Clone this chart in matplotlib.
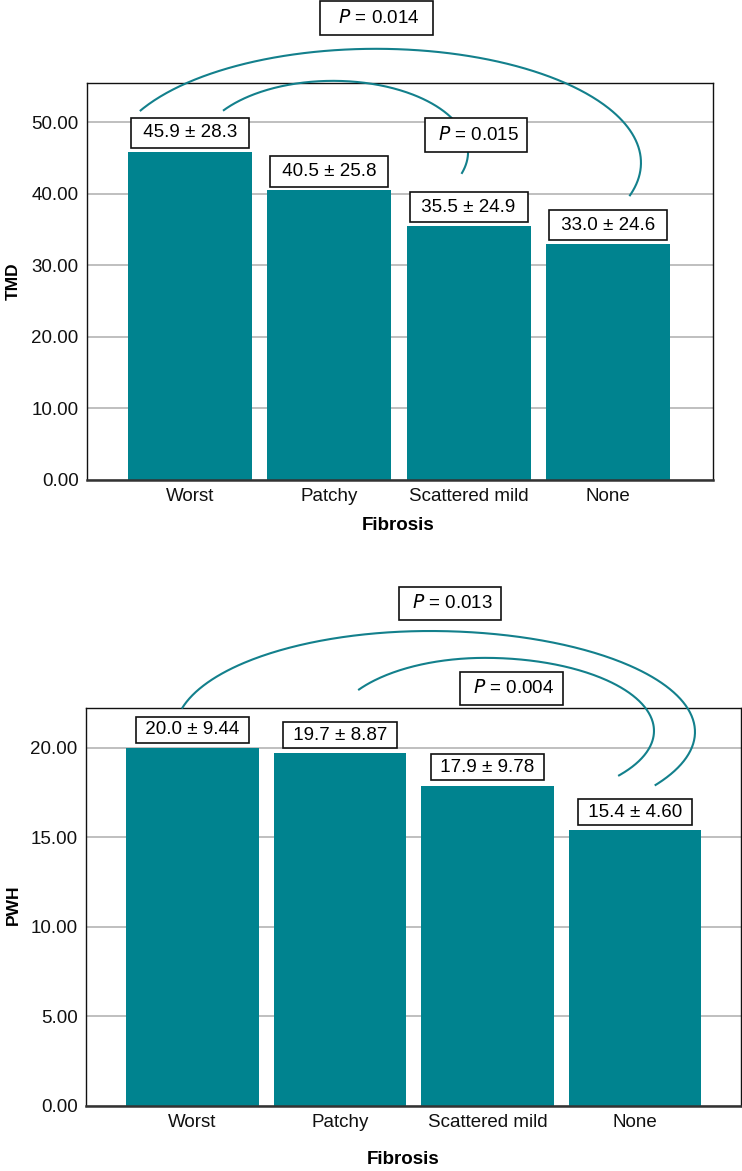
import numpy as np
import matplotlib
matplotlib.use("Agg")
import matplotlib.pyplot as plt
from matplotlib import font_manager

plt.rcParams['font.family'] = ['Liberation Sans', 'DejaVu Sans']

# ---------------- data ----------------
categories = ["Worst", "Patchy", "Scattered mild", "None"]
tmd_mean = [45.9, 40.5, 35.5, 33.0]
tmd_sd = [28.3, 25.8, 24.9, 24.6]
pwh_mean = [20.0, 19.7, 17.9, 15.4]
pwh_sd = ["9.44", "8.87", "9.78", "4.60"]
tmd_ticks = [0, 10, 20, 30, 40, 50]
pwh_ticks = [0, 5, 10, 15, 20]
tmd_p = ["0.014", "0.015"]
pwh_p = ["0.013", "0.004"]

BAR = "#00838f"
ARC = "#13808c"
W, H = 742, 1171

names = {f.name for f in font_manager.fontManager.ttflist}
narrow = [n for n in ['Liberation Sans Narrow', 'DejaVu Sans Condensed'] if n in names]

fig = plt.figure(figsize=(W / 100, H / 100), dpi=100)


def px_axes(l, r, t, b):
    return fig.add_axes([l / W, 1 - b / H, (r - l) / W, (b - t) / H])


def style(ax, ticks, ylim, xlim):
    x = np.arange(len(categories))
    ax.set_xlim(*xlim)
    ax.set_ylim(*ylim)
    ax.set_yticks(ticks)
    ax.set_yticklabels([f"{t:.2f}" for t in ticks])
    ax.set_xticks(x)
    ax.set_xticklabels(categories)
    ax.tick_params(axis='both', length=0, labelsize=13.5, colors='#111111')
    ax.tick_params(axis='y', pad=6)
    ax.tick_params(axis='x', pad=6)
    ax.yaxis.grid(True, color='#b4b4b4', lw=1.2)
    ax.set_axisbelow(True)
    for s in ['top', 'left', 'right']:
        ax.spines[s].set_linewidth(1.0)
        ax.spines[s].set_color('#111111')
    ax.spines['bottom'].set_linewidth(1.8)
    ax.spines['bottom'].set_color('#333333')


def arc(ax, cx, cy, aL, aR, b, t0, t1):
    t = np.radians(np.linspace(t0, t1, 300))
    a = np.where(np.cos(t) < 0, aL, aR)
    ax.plot(cx + a * np.cos(t), cy + b * np.sin(t), color=ARC, lw=1.5,
            clip_on=False, zorder=4, solid_capstyle='butt')


def pbox(ax, x, y, txt, spaces):
    sp = " " * spaces
    ax.text(x, y, sp + r"$\it{P}$" + " = " + txt + sp, ha='center', va='center',
            fontsize=13.5, zorder=6, clip_on=False,
            bbox=dict(boxstyle='square,pad=0.42', fc='white', ec='#111111', lw=1.2))


# ---------------- top chart: TMD ----------------
ax1 = px_axes(87, 713, 83, 480)
x = np.arange(len(categories))
ax1.bar(x, tmd_mean, width=0.89, color=BAR, zorder=2)
style(ax1, tmd_ticks, (0, 55.5), (-0.739, 3.754))
for xi, m, s in zip(x, tmd_mean, tmd_sd):
    ax1.annotate(f" {m:.1f} ± {s:.1f} ", (xi, m), xytext=(0, 7.5), textcoords='offset points',
                 ha='center', va='bottom', fontsize=13.5, zorder=5,
                 bbox=dict(boxstyle='square,pad=0.36', fc='white', ec='#111111', lw=1.2))
arc(ax1, 1.335, 44.34, 1.902, 1.902, 15.94, 153, -17)
arc(ax1, 1.027, 45.87, 0.969, 0.969, 9.93, 144.6, -18)
pbox(ax1, 1.342, 64.6, tmd_p[0], 2)
pbox(ax1, 2.053, 48.2, tmd_p[1], 1)

fig.text(13 / W, 1 - 281 / H, "TMD", rotation=90, ha='center', va='center',
         fontsize=12.5, fontweight='bold')
fig.text(398 / W, 1 - 525 / H, "Fibrosis", ha='center', va='center',
         fontsize=13.5, fontweight='bold')

# ---------------- bottom chart: PWH ----------------
ax2 = px_axes(86, 741, 708, 1106)
ax2.bar(x, pwh_mean, width=0.9, color=BAR, zorder=2)
style(ax2, pwh_ticks, (0, 22.23), (-0.722, 3.719))
for xi, m, s in zip(x, pwh_mean, pwh_sd):
    ax2.annotate(f" {m:.1f} ± {s} ", (xi, m), xytext=(0, 7), textcoords='offset points',
                 ha='center', va='bottom', fontsize=13.5, zorder=5,
                 bbox=dict(boxstyle='square,pad=0.24', fc='white', ec='#111111', lw=1.2))
arc(ax2, 1.610, 20.89, 1.729, 1.797, 5.64, 166.6, -32)
arc(ax2, 1.983, 20.95, 1.037, 1.146, 4.08, 146, -38)
pbox(ax2, 1.746, 28.07, pwh_p[0], 1)
pbox(ax2, 2.163, 23.32, pwh_p[1], 1)

fig.text(13 / W, 1 - 905 / H, "PWH", rotation=90, ha='center', va='center',
         fontsize=12.5, fontweight='bold')
fig.text(403 / W, 1 - 1159 / H, "Fibrosis", ha='center', va='center',
         fontsize=13.5, fontweight='bold', family=narrow + ['Liberation Sans'])

fig.savefig("out.png", dpi=100)
